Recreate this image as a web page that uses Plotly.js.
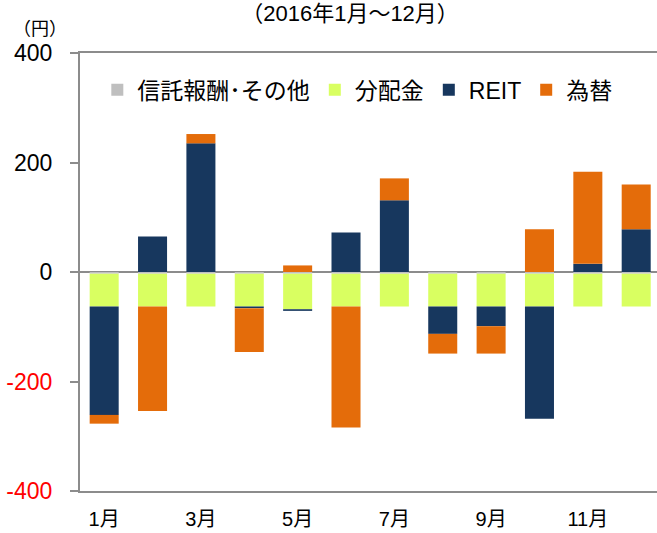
<!DOCTYPE html>
<html>
<head>
<meta charset="utf-8">
<script src="https://cdn.plot.ly/plotly-3.0.1.min.js"></script>
<style>html,body{margin:0;padding:0;background:#fff;}#chart{width:657px;height:533px;}</style>
</head>
<body>
<div id="chart"></div>
<script>
var months = ['1月','2月','3月','4月','5月','6月','7月','8月','9月','10月','11月','12月'];
var fees = [-3,-3,-3,-3,-3,-3,-3,-3,-3,-3,-3,-3];
var distribution = [-60,-60,-60,-60,-65,-60,-60,-60,-60,-60,-60,-60];
var reit = [-198,65,235,-3,-3,72,131,-50,-36,-205,15,78];
var fx = [-16,-191,17,-80,12,-221,40,-36,-50,78,168,82];
var seriesNames = ['信託報酬･その他','分配金','REIT','為替'];
var tickLabelsX = ['1月','3月','5月','7月','9月','11月'];
var tickValsX = ['1月','3月','5月','7月','9月','11月'];
var yTickVals = [-400,-200,0,200,400];
var yTickText = ['<span style="color:#ff0000">-400</span>','<span style="color:#ff0000">-200</span>','0','200','400'];

var FONT = 'Liberation Sans, Arial, "Noto Sans CJK JP", sans-serif';
var colors = ['#bfbfbf','#d9ff61','#17375e','#e46c0a'];
var vals = [fees, distribution, reit, fx];
var traces = vals.map(function(v,i){
  return {type:'bar', x:months, y:v, name:seriesNames[i], marker:{color:colors[i], line:{width:0}}, hoverinfo:'skip'};
});

var layout = {
  width:657, height:533,
  margin:{l:80, r:0, t:53, b:42},
  paper_bgcolor:'#fff', plot_bgcolor:'#fff',
  barmode:'relative', bargap:0.4,
  font:{family:FONT, size:20, color:'#000'},
  title:{text:'（2016年1月～12月）', x:0.468, xref:'paper', xanchor:'center', y:0.975, yref:'container', yanchor:'middle', font:{family:FONT, size:22, color:'#000'}},
  showlegend:true,
  legend:{orientation:'h', x:0.03, xanchor:'left', y:0.916, yanchor:'middle', font:{family:FONT, size:23, color:'#000'}, bgcolor:'rgba(0,0,0,0)', traceorder:'normal', itemwidth:30},
  xaxis:{type:'category', categoryorder:'array', categoryarray:months, range:[-0.5,11.43], tickvals:tickValsX, ticktext:tickLabelsX, ticks:'', showline:true, mirror:true, linecolor:'#8c8c8c', linewidth:2, showgrid:false, zeroline:false, ticklabelstandoff:9, tickfont:{family:FONT, size:20, color:'#000'}, fixedrange:true},
  xaxis2:{overlaying:'x', anchor:'free', position:0.5, range:[-0.5,11.43], tickvals:[1.5,3.5,5.5,7.5,9.5], ticks:'outside', ticklen:8, tickwidth:2, tickcolor:'#8c8c8c', showticklabels:false, showline:false, showgrid:false, zeroline:false},
  yaxis:{range:[-400,400], tickvals:yTickVals, ticktext:yTickText, ticks:'outside', ticklen:8, tickwidth:2, tickcolor:'#8c8c8c', showline:true, linecolor:'#8c8c8c', linewidth:2, showgrid:false, zeroline:true, zerolinecolor:'#8c8c8c', zerolinewidth:2, ticklabelstandoff:13, tickfont:{family:FONT, size:23, color:'#000'}, fixedrange:true},
  annotations:[{text:'（円）', xref:'paper', yref:'paper', x:-0.07, y:1.055, xanchor:'center', yanchor:'middle', showarrow:false, font:{family:FONT, size:18, color:'#000'}}]
};
Plotly.newPlot('chart', traces, layout, {displayModeBar:false, staticPlot:true});
</script>
</body>
</html>
